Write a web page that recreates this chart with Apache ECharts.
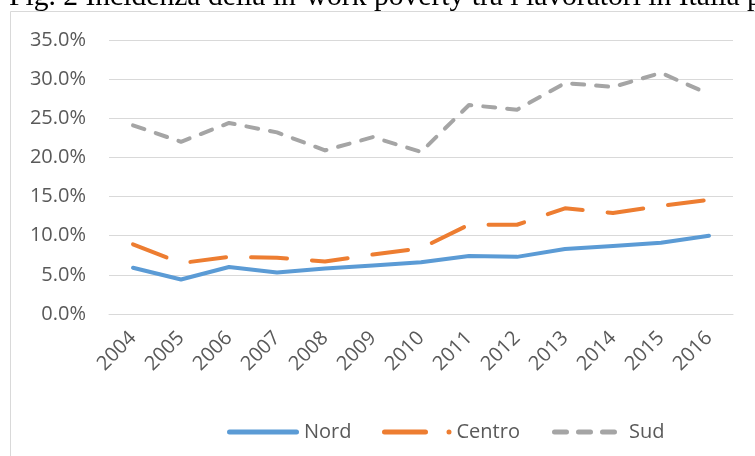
<!DOCTYPE html>
<html><head><meta charset="utf-8">
<script src="https://cdn.jsdelivr.net/npm/echarts@6/dist/echarts.min.js"></script>
<style>html,body{margin:0;padding:0;background:#fff;overflow:hidden}#c{width:755px;height:456px}</style>
</head><body><div id="c"></div>
<script>
const years = ['2004','2005','2006','2007','2008','2009','2010','2011','2012','2013','2014','2015','2016'];
const nord = [0.059,0.044,0.060,0.053,0.058,0.062,0.066,0.074,0.073,0.083,0.087,0.091,0.100];
const centro = [0.089,0.065,0.073,0.072,0.067,0.076,0.084,0.114,0.114,0.135,0.129,0.138,0.146];
const sud = [0.241,0.220,0.244,0.232,0.209,0.226,0.207,0.267,0.261,0.295,0.290,0.308,0.281];
const titleText = 'Fig. 2 Incidenza della in-work poverty tra i lavoratori in Italia per ripartizione geografica';

const colors = {nord:'#5B9BD5', centro:'#ED7D31', sud:'#A5A5A5'};
const labelColor = '#595959';
const font = 'Open Sans';

const rr = (x0, x1) => `M${x0+2.5},0 L${x1-2.5},0 A2.5,2.5 0 0 1 ${x1-2.5},5 L${x0+2.5},5 A2.5,2.5 0 0 1 ${x0+2.5},0 Z`;
const iconNord = 'path://' + rr(0,72);
const iconCentro = 'path://' + rr(0,46) + ' M67,0 A2.5,2.5 0 1 1 67,5 A2.5,2.5 0 1 1 67,0 Z';
const iconSud = 'path://' + rr(0,17) + ' ' + rr(24,41) + ' ' + rr(48,65);

const legendBase = {
  orient:'horizontal', top: 420, padding: 0, itemHeight: 5, symbolKeepAspect: false,
  selectedMode: false,
  textStyle: {color: labelColor, fontFamily: font, fontSize: 20, lineHeight: 24}
};

const chart = echarts.init(document.getElementById('c'), null, {renderer:'canvas'});
chart.setOption({
  animation: false,
  backgroundColor: '#fff',
  title: {
    text: titleText, left: 9, top: -17, padding: 0,
    textStyle: {fontFamily: '"Liberation Serif", "Times New Roman", serif', fontSize: 29.6, lineHeight: 29, fontWeight: 'normal', color: '#000'}
  },
  graphic: [{
    type: 'rect', silent: true, z: -1,
    shape: {x: 10.5, y: 11.5, width: 800, height: 500},
    style: {fill: 'none', stroke: '#D9D9D9', lineWidth: 1}
  }],
  grid: {left: 109, right: 22, top: 40, bottom: 142, containLabel: false},
  legend: [
    Object.assign({}, legendBase, {left: 227, itemWidth: 72, data: [{name:'Nord', icon: iconNord}]}),
    Object.assign({}, legendBase, {left: 382, itemWidth: 69.5, data: [{name:'Centro', icon: iconCentro}]}),
    Object.assign({}, legendBase, {left: 552, itemWidth: 65, data: [{name:'Sud', icon: iconSud, textStyle:{padding:[0,0,0,7]}}]})
  ],
  xAxis: {
    type: 'category', data: years, boundaryGap: true,
    axisLine: {show: true, lineStyle: {color: '#D9D9D9', width: 1}},
    axisTick: {show: false},
    axisLabel: {interval: 0, rotate: 45, margin: 21, color: labelColor, fontFamily: font, fontSize: 20}
  },
  yAxis: {
    type: 'value', min: 0, max: 0.35, interval: 0.05,
    axisLine: {show: false}, axisTick: {show: false},
    splitLine: {lineStyle: {color: '#D9D9D9', width: 1}},
    axisLabel: {margin: 23, color: labelColor, fontFamily: font, fontSize: 20,
      formatter: v => (v*100).toFixed(1) + '%'}
  },
  series: [
    {name:'Nord', type:'line', data: nord, symbol:'none', color: colors.nord,
     lineStyle:{color: colors.nord, width: 4, cap:'round', join:'round'}},
    {name:'Centro', type:'line', data: centro, symbol:'none', color: colors.centro,
     lineStyle:{color: colors.centro, width: 4, type:[36,25], cap:'round', join:'round'}},
    {name:'Sud', type:'line', data: sud, symbol:'none', color: colors.sud,
     lineStyle:{color: colors.sud, width: 4, type:[12,12], cap:'round', join:'round'}}
  ]
});
</script>
</body></html>
